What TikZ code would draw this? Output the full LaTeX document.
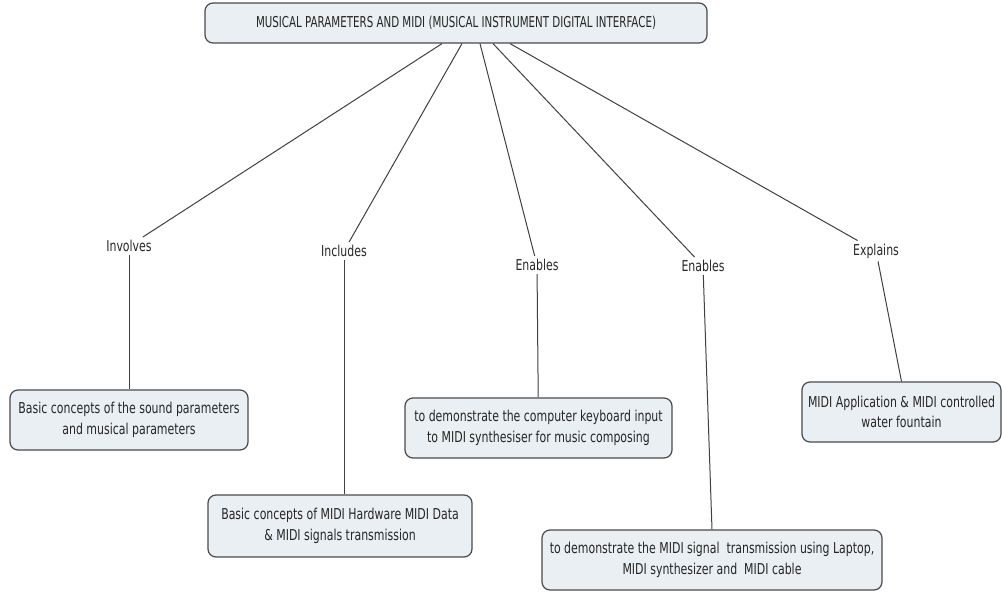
\documentclass[tikz,border=0pt]{standalone}
\usepackage{fontspec}
\setmainfont{DejaVu Sans}[FakeStretch=0.73]
\newfontfamily\titlefont{DejaVu Sans}[FakeStretch=0.685]
\definecolor{boxfill}{HTML}{E9EFF3}
\definecolor{boxdraw}{HTML}{4A4A4A}
\definecolor{linkcol}{HTML}{404040}
\begin{document}
\begin{tikzpicture}[x=1pt,y=-1pt,
  concept/.style={draw=boxdraw,fill=boxfill,line width=1.2pt,rounded corners=8pt,
    align=center,inner sep=0pt,font=\fontsize{15}{20.5}\selectfont,text=black!85},
  linklabel/.style={inner sep=3pt,font=\fontsize{15}{20}\selectfont,text=black!85},
  link/.style={draw=linkcol,line width=1pt}]
\useasboundingbox (0,0) rectangle (1002,592);
\node[concept,minimum width=502pt,minimum height=40pt,font=\titlefont\fontsize{15}{20}\selectfont] (top) at (456,23)
  {MUSICAL PARAMETERS AND MIDI (MUSICAL INSTRUMENT DIGITAL INTERFACE)};
\node[concept,minimum width=238pt,minimum height=60pt] (A) at (129,420)
  {Basic concepts of the sound parameters\\and musical parameters};
\node[concept,minimum width=264pt,minimum height=62pt] (B) at (340,526)
  {Basic concepts of MIDI Hardware MIDI Data\\\& MIDI signals transmission};
\node[concept,minimum width=267pt,minimum height=60pt] (C) at (538.5,428)
  {to demonstrate the computer keyboard input\\to MIDI synthesiser for music composing};
\node[concept,minimum width=340pt,minimum height=60pt] (D) at (712,560)
  {to demonstrate the MIDI signal\ \ transmission using Laptop,\\MIDI synthesizer and\ \ MIDI cable};
\node[concept,minimum width=199pt,minimum height=60pt] (E) at (901.5,412)
  {MIDI Application \& MIDI controlled\\water fountain};
\node[linklabel] (inv) at (129,246) {Involves};
\node[linklabel] (inc) at (344,251) {Includes};
\node[linklabel] (en1) at (537,265) {Enables};
\node[linklabel] (en2) at (703,266) {Enables};
\node[linklabel] (exp) at (876,251) {Explains};
\draw[link] ([xshift=-14pt]top.south) -- (inv);
\draw[link] ([xshift=6pt]top.south) -- (inc);
\draw[link] ([xshift=24pt]top.south) -- (en1);
\draw[link] ([xshift=37pt]top.south) -- (en2);
\draw[link] ([xshift=54pt]top.south) -- (exp);
\draw[link] (inv) -- (A);
\draw[link] (inc) -- (inc |- B.north);
\draw[link] (en1) -- (C);
\draw[link] (en2) -- (D.north);
\draw[link] (exp) -- (E.north);
\end{tikzpicture}
\end{document}
